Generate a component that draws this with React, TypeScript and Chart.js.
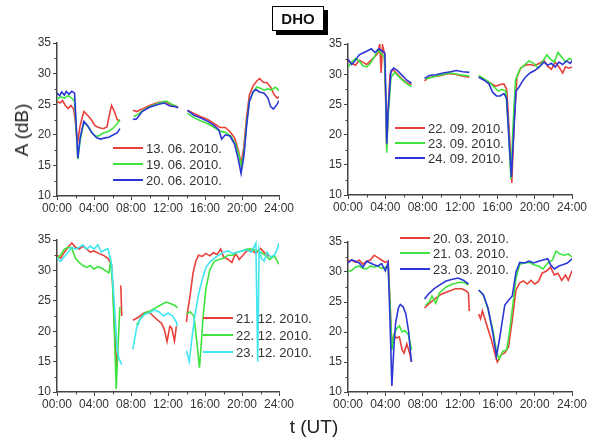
import React, { useEffect, useRef } from 'react';
import { Chart, registerables } from 'chart.js';

Chart.register(...registerables);

type Pt = [number, number | null];

// axis ticks
const hourMajor = [0, 4, 8, 12, 16, 20, 24];
const hourMinor = [2, 6, 10, 14, 18, 22];
const dbMajor = [10, 15, 20, 25, 30, 35];
const dbMinor = [12.5, 17.5, 22.5, 27.5, 32.5];

// ---- June ----
const jun13: Pt[] = [[0,25.5],[0.3,25.2],[0.6,25.6],[0.9,24.8],[1.2,24.3],[1.5,24.8],[1.8,24.2],[2.0,22],[2.2,18.5],[2.5,21.5],[2.9,23.8],[3.3,23.2],[3.7,22.5],[4.1,21.5],[4.5,21.2],[5.0,21.0],[5.4,21.3],[5.7,23.5],[5.9,24.8],[6.2,23.8],[6.5,22.5],[6.8,22.2],[7.5,null],[8.2,24.0],[8.6,23.8],[9.2,24.2],[10,24.8],[11,25.3],[11.7,25.4],[12.3,24.9],[12.8,24.7],[13.1,24.5],[13.6,null],[14.1,24.0],[14.8,23.5],[15.5,23.0],[16.3,22.5],[17,21.8],[17.6,21.2],[18.2,21.2],[18.7,20.5],[19.2,19.5],[19.6,17.5],[19.9,15.3],[20.2,18],[20.5,23],[20.8,26.5],[21.2,28.0],[21.6,28.8],[21.9,29.2],[22.3,28.6],[22.7,28.5],[23.1,27.8],[23.5,26.5],[23.8,26.0],[24,26.2]];
const jun19: Pt[] = [[0,25.8],[0.4,26.2],[0.8,26.0],[1.2,26.4],[1.6,26.0],[1.9,25.5],[2.1,20],[2.25,16.0],[2.5,19],[2.9,22.0],[3.3,21.5],[3.7,20.5],[4.1,19.8],[4.5,19.8],[5.0,20.3],[5.5,20.5],[6.0,21.0],[6.5,21.8],[6.8,22.5],[7.5,null],[8.3,23.0],[8.7,23.3],[9.3,24.0],[10,24.6],[11,25.2],[11.8,25.5],[12.4,25.0],[13.0,24.6],[13.6,null],[14.1,23.5],[14.8,22.8],[15.5,22.3],[16.3,21.8],[17,21.2],[17.6,20.6],[18.2,20.4],[18.8,19.8],[19.3,18.5],[19.7,16.5],[19.95,14.8],[20.2,17],[20.5,22],[20.8,25.5],[21.2,27.0],[21.6,27.8],[22,27.6],[22.4,27.3],[22.8,27.5],[23.2,27.3],[23.6,27.8],[24,27.2]];
const jun20: Pt[] = [[0,26.8],[0.3,26.4],[0.5,27.0],[0.8,26.5],[1.0,27.1],[1.3,26.6],[1.6,27.1],[1.9,26.8],[2.1,21],[2.25,16.2],[2.5,19.5],[2.9,22.2],[3.3,21.5],[3.8,20.3],[4.3,19.5],[4.7,19.3],[5.2,19.5],[5.6,19.6],[6.1,20.0],[6.5,20.3],[6.8,21.0],[7.5,null],[8.2,22.5],[8.6,22.6],[9.2,23.8],[10,24.5],[11,25.0],[11.6,25.2],[12.2,24.7],[12.8,24.6],[13.1,24.4],[13.6,null],[14.1,24.0],[14.8,23.2],[15.5,22.8],[16.3,22.2],[17,21.5],[17.5,20.8],[17.8,19.3],[18.2,20.0],[18.7,19.8],[19.2,18.5],[19.6,16.0],[19.9,13.7],[20.2,16.5],[20.5,21.5],[20.8,25.5],[21.2,27.0],[21.5,27.4],[21.9,27.0],[22.4,26.8],[22.8,26.0],[23.1,24.6],[23.4,24.2],[23.8,25.0],[24,25.6]];

// ---- September ----
const sep22: Pt[] = [[0,32.2],[0.4,31.8],[0.8,31.5],[1.2,32.3],[1.6,32.0],[2.0,31.6],[2.4,32.2],[2.8,32.8],[3.2,33.5],[3.4,35.0],[3.55,30.2],[3.7,34.8],[3.9,33.5],[4.05,25],[4.15,18.0],[4.3,24],[4.5,30.0],[4.8,30.8],[5.3,30.0],[5.8,29.2],[6.3,28.6],[6.8,28.3],[7.5,null],[8.2,28.9],[8.6,29.4],[9.2,29.6],[10,29.8],[10.8,30.1],[11.5,30.0],[12.2,29.7],[13,29.5],[13.6,null],[14.0,29.6],[14.6,29.0],[15.2,28.6],[15.8,28.0],[16.3,28.3],[16.7,28.4],[17.0,27.5],[17.3,20],[17.55,12.0],[17.8,22],[18.1,29.5],[18.5,31.0],[19,31.5],[19.5,31.6],[20,31.4],[20.5,31.8],[21,32.3],[21.4,31.3],[21.8,30.8],[22.2,32],[22.6,31.2],[23,30.2],[23.3,31.2],[23.7,31.0],[24,31.2]];
const sep23: Pt[] = [[0,31.2],[0.4,32.0],[0.8,32.6],[1.2,32.2],[1.6,31.4],[2.0,31.2],[2.4,31.8],[2.8,32.8],[3.2,34.0],[3.5,33.5],[3.9,32.8],[4.05,26],[4.15,17.0],[4.3,23],[4.6,29.5],[5.0,30.3],[5.5,29.5],[6.0,28.8],[6.5,28.2],[6.8,28.0],[7.5,null],[8.3,29.2],[8.8,29.4],[9.5,29.7],[10.3,30.0],[11,30.2],[11.7,30.0],[12.4,29.8],[13.0,29.7],[13.6,null],[14.0,29.8],[14.6,29.2],[15.2,28.6],[15.7,27.8],[16.1,27.2],[16.5,27.5],[16.9,27.2],[17.2,21],[17.45,12.6],[17.7,22],[17.95,29.0],[18.4,30.8],[18.9,31.5],[19.4,32.2],[19.9,31.8],[20.4,31.0],[20.9,32.2],[21.3,33.2],[21.7,32.5],[22.1,32.0],[22.5,33.6],[22.9,32.8],[23.3,32.0],[23.7,32.6],[24,32.4]];
const sep24: Pt[] = [[0,32.5],[0.4,31.6],[0.8,32.3],[1.2,33.2],[1.6,33.5],[2.0,33.8],[2.5,34.2],[2.9,33.6],[3.3,34.2],[3.7,33.8],[3.95,33.5],[4.05,27],[4.15,18.5],[4.3,24],[4.6,30.5],[4.9,31.0],[5.3,30.6],[5.8,29.8],[6.3,29.0],[6.8,28.5],[7.5,null],[8.2,29.3],[8.7,29.8],[9.4,29.9],[10.2,30.2],[11,30.4],[11.6,30.6],[12.3,30.4],[13,30.3],[13.6,null],[14.0,29.5],[14.6,29.0],[15.1,28.4],[15.5,27.0],[15.9,26.4],[16.3,26.4],[16.7,26.8],[17.0,26.0],[17.25,19],[17.5,13.0],[17.75,20],[18.0,27.2],[18.3,27.8],[18.6,28.6],[19.0,29.5],[19.5,30.2],[20,30.6],[20.5,31.2],[21,32.0],[21.4,31.5],[21.8,31.8],[22.2,31.2],[22.6,32.0],[23,31.6],[23.4,32.2],[23.8,31.8],[24,32.2]];

// ---- December ----
const dec21: Pt[] = [[0,32.5],[0.4,32.0],[0.8,33.0],[1.2,33.8],[1.6,34.5],[2.0,33.8],[2.4,33.5],[2.8,34.0],[3.2,33.5],[3.6,33.0],[4.0,33.2],[4.5,32.8],[5.0,32.5],[5.5,32.0],[5.9,31.0],[6.1,25],[6.3,18],[6.5,14.0],[6.6,null],[6.9,27.5],[7.0,22.5],[7.2,null],[8.2,21.8],[8.8,22.3],[9.4,23.0],[9.9,23.2],[10.4,22.5],[10.9,21.8],[11.3,21.3],[11.6,20.3],[11.9,18.3],[12.2,20.8],[12.4,20.5],[12.7,18.4],[12.9,20.8],[13.2,null],[14.0,21.5],[14.1,23.0],[14.4,26.0],[14.7,29.5],[15.0,31.5],[15.3,32.5],[15.7,32.3],[16.1,32.8],[16.5,32.4],[16.9,32.9],[17.3,32.6],[17.7,33.5],[18.0,32.2],[18.5,31.8],[18.9,31.3],[19.3,32.8],[19.7,31.8],[20.1,32.5],[20.5,33.2],[21,33.4],[21.5,32.8],[22,33.6],[22.5,32.8],[23,32.3]];
const dec22: Pt[] = [[0,32.0],[0.4,32.5],[0.8,33.5],[1.2,33.8],[1.6,33.6],[2.0,32.0],[2.4,31.3],[2.8,30.8],[3.2,30.5],[3.6,30.8],[4.0,30.2],[4.4,30.6],[4.8,30.4],[5.2,30.0],[5.6,29.6],[5.8,31.5],[6.0,28],[6.2,20],[6.4,10.5],[6.6,17.5],[6.8,24.0],[7.2,null],[8.6,21.0],[9.0,22.0],[9.5,23.0],[10.0,23.3],[10.6,23.8],[11.2,24.3],[11.8,24.8],[12.3,24.5],[12.8,24.2],[13.0,23.8],[13.4,null],[14.0,22.8],[14.4,23.2],[14.8,22.5],[15.1,18.5],[15.4,14.0],[15.6,18],[15.8,22.5],[16.1,27],[16.5,30.0],[17.0,31.5],[17.5,31.8],[18,32.0],[18.5,32.5],[19,32.5],[19.5,33.0],[20,33.2],[20.5,33.5],[21,33.5],[21.5,33.3],[22,33.0],[22.5,32.5],[23,31.8],[23.5,32.4],[24,31.0]];
const dec23: Pt[] = [[0,32.0],[0.4,31.5],[0.8,32.3],[1.2,33.0],[1.6,33.8],[2.0,33.5],[2.4,33.8],[2.8,34.2],[3.2,33.5],[3.6,34.0],[4.0,33.5],[4.4,34.2],[4.8,33.0],[5.2,33.4],[5.5,33.6],[5.9,31.0],[6.2,24.5],[6.5,17.0],[6.7,15.5],[7.0,14.5],[7.2,null],[8.2,17.0],[8.6,20.5],[9.0,22.0],[9.5,22.8],[10.0,23.0],[10.5,23.5],[11.0,23.2],[11.5,22.5],[12.0,23.0],[12.5,22.5],[12.9,21.5],[13.0,20.8],[13.4,null],[14.0,16.8],[14.3,15.0],[14.6,19.0],[14.9,22.5],[15.3,26.0],[15.7,28.5],[16.1,30.5],[16.6,31.5],[17.0,32.0],[17.5,32.5],[18,33.0],[18.5,33.2],[19,32.8],[19.5,33.0],[20,33.2],[20.5,33.4],[21,33.0],[21.5,34.5],[21.7,15.0],[21.85,33.5],[22.1,32.0],[22.4,31.5],[22.7,33.0],[23.1,32.2],[23.5,32.5],[23.8,33.5],[24,34.5]];

// ---- March ----
const mar20: Pt[] = [[0,31.8],[0.4,32.0],[0.8,31.6],[1.2,32.0],[1.6,31.3],[2.0,31.8],[2.4,32.0],[2.8,32.8],[3.2,32.4],[3.6,32.0],[4.0,31.6],[4.3,31.8],[4.5,25],[4.7,17.5],[4.9,19.5],[5.2,19.0],[5.5,19.2],[5.8,17.0],[6.0,16.5],[6.3,18.0],[6.6,16.5],[6.8,15.0],[7.4,null],[8.2,24.0],[8.6,24.6],[9.2,25.4],[10,26.3],[10.8,26.8],[11.5,27.2],[12.2,27.2],[12.7,26.8],[12.9,26.5],[13.0,23.5],[13.5,null],[14.0,23.0],[14.2,22.2],[14.4,23.5],[14.7,22.0],[15.0,20.5],[15.4,18.5],[15.8,16.0],[16.0,15.0],[16.4,16.2],[16.8,16.5],[17.2,17.5],[17.6,22.0],[18.0,27.0],[18.4,28.2],[18.8,28.5],[19.2,28.0],[19.6,28.6],[20.0,28.0],[20.4,28.4],[20.8,29.8],[21.3,30.2],[21.7,30.8],[22.1,29.5],[22.5,29.8],[22.9,28.6],[23.3,29.5],[23.6,28.6],[24,30.2]];
const mar21: Pt[] = [[0,30.0],[0.4,30.3],[0.8,30.8],[1.2,31.0],[1.6,30.6],[2.0,30.5],[2.4,31.0],[2.8,30.8],[3.2,31.0],[3.6,30.6],[4.0,30.8],[4.3,31.0],[4.5,25],[4.7,17.0],[4.9,19.5],[5.2,20.5],[5.5,21.0],[5.8,20.0],[6.1,20.2],[6.5,19.5],[6.8,17.0],[7.4,null],[8.3,24.5],[8.7,25.0],[9.0,26.0],[9.4,24.8],[9.8,26.5],[10.5,27.5],[11.2,28.0],[12.0,28.3],[12.5,28.2],[12.9,27.8],[13.5,null],[14.0,27.0],[14.5,26.2],[15.0,23.8],[15.5,20.5],[15.9,16.8],[16.2,15.5],[16.6,16.8],[17.0,17.0],[17.3,20.0],[17.7,25.0],[18.0,29.0],[18.4,31.3],[18.9,31.5],[19.4,31.6],[19.9,31.2],[20.4,31.0],[20.9,30.5],[21.4,31.5],[21.9,32.0],[22.3,33.5],[22.7,33.0],[23.2,32.8],[23.6,33.0],[24,32.5]];
const mar23: Pt[] = [[0,31.5],[0.4,32.0],[0.8,31.8],[1.2,31.5],[1.6,30.8],[2.0,31.8],[2.4,31.5],[2.8,31.2],[3.2,31.0],[3.6,31.4],[4.0,30.2],[4.3,31.5],[4.5,22],[4.7,11.0],[4.9,17],[5.1,21.5],[5.4,24.0],[5.6,24.6],[5.9,24.2],[6.2,23.0],[6.5,20.0],[6.7,16.5],[6.8,15.0],[7.4,null],[8.2,25.5],[8.6,26.3],[9.2,27.2],[9.8,27.8],[10.5,28.5],[11.2,28.8],[11.8,29.0],[12.4,28.6],[12.9,28.0],[13.5,null],[14.0,27.0],[14.5,26.2],[15.0,24.0],[15.5,20.0],[15.9,16.0],[16.2,18.5],[16.5,21.5],[16.8,24.5],[17.2,25.3],[17.6,26.0],[18.0,30.0],[18.4,31.6],[18.9,31.5],[19.4,31.8],[19.9,31.5],[20.4,31.8],[20.9,32.0],[21.4,32.2],[21.7,31.2],[22.1,30.5],[22.6,31.0],[23.0,31.2],[23.5,31.5],[24,32.2]];

const RED = '#e8403a';
const GREEN = '#3ee43e';
const BLUE = '#2a37d6';
const CYAN = '#40e6f0';

const FONT = '"Liberation Sans", Arial, sans-serif';

interface Series { label: string; data: Pt[]; color: string; }
interface Panel {
  plot: { l: number; r: number; t: number; b: number };
  series: Series[];
  legend: { x: number; ys: number[] };
}

const panels: Panel[] = [
  {
    plot: { l: 57, r: 279, t: 43, b: 196 },
    series: [
      { label: '13. 06. 2010.', data: jun13, color: RED },
      { label: '19. 06. 2010.', data: jun19, color: GREEN },
      { label: '20. 06. 2010.', data: jun20, color: BLUE },
    ],
    legend: { x: 113, ys: [148, 164, 180] },
  },
  {
    plot: { l: 348, r: 572, t: 44, b: 195 },
    series: [
      { label: '22. 09. 2010.', data: sep22, color: RED },
      { label: '23. 09. 2010.', data: sep23, color: GREEN },
      { label: '24. 09. 2010.', data: sep24, color: BLUE },
    ],
    legend: { x: 395, ys: [128, 143, 158] },
  },
  {
    plot: { l: 57, r: 279, t: 240, b: 392 },
    series: [
      { label: '21. 12. 2010.', data: dec21, color: RED },
      { label: '22. 12. 2010.', data: dec22, color: GREEN },
      { label: '23. 12. 2010.', data: dec23, color: CYAN },
    ],
    legend: { x: 203, ys: [318, 335, 352] },
  },
  {
    plot: { l: 348, r: 572, t: 242, b: 392 },
    series: [
      { label: '20. 03. 2010.', data: mar20, color: RED },
      { label: '21. 03. 2010.', data: mar21, color: GREEN },
      { label: '23. 03. 2010.', data: mar23, color: BLUE },
    ],
    legend: { x: 400, ys: [238, 253, 269] },
  },
];

const PAD_L = 50, PAD_T = 10, PAD_R = 20, PAD_B = 22;

const minorTicks = {
  id: 'minorTicks',
  afterDraw(chart: any) {
    const { ctx, scales, chartArea } = chart;
    const x = scales.x, y = scales.y;
    ctx.save();
    ctx.strokeStyle = '#444';
    ctx.lineWidth = 1;
    ctx.beginPath();
    hourMinor.forEach((h) => {
      const px = Math.round(x.getPixelForValue(h)) + 0.5;
      ctx.moveTo(px, chartArea.bottom);
      ctx.lineTo(px, chartArea.bottom + 2.5);
    });
    dbMinor.forEach((v) => {
      const py = Math.round(y.getPixelForValue(v)) + 0.5;
      ctx.moveTo(chartArea.left - 2.5, py);
      ctx.lineTo(chartArea.left, py);
    });
    ctx.stroke();
    ctx.restore();
  },
};

function PanelChart({ panel }: { panel: Panel }) {
  const ref = useRef<HTMLCanvasElement>(null);
  const { l, r, t, b } = panel.plot;
  const w = r - l + PAD_L + PAD_R;
  const h = b - t + PAD_T + PAD_B;

  useEffect(() => {
    if (!ref.current) return;
    const chart = new Chart(ref.current, {
      type: 'line',
      data: {
        datasets: panel.series.map((s, i) => ({
          label: s.label,
          data: s.data.map(([x, y]) => ({ x, y })),
          borderColor: s.color,
          backgroundColor: s.color,
          borderWidth: 1.6,
          pointRadius: 0,
          tension: 0,
          spanGaps: false,
          fill: false,
          order: panel.series.length - i,
        })),
      },
      options: {
        animation: false,
        responsive: false,
        maintainAspectRatio: false,
        devicePixelRatio: 1,
        layout: { padding: { left: 0, top: PAD_T, right: PAD_R, bottom: 0 } },
        plugins: { legend: { display: false }, tooltip: { enabled: false }, title: { display: false } },
        scales: {
          x: {
            type: 'linear',
            min: 0,
            max: 24,
            afterFit: (s: any) => { s.height = PAD_B; },
            afterBuildTicks: (s: any) => { s.ticks = hourMajor.map((v) => ({ value: v })); },
            ticks: {
              autoSkip: false,
              maxRotation: 0,
              padding: 1,
              color: '#333',
              font: { family: FONT, size: 12 },
              callback: (v: any) => `${String(v).padStart(2, '0')}:00`,
            },
            grid: { display: true, drawOnChartArea: false, drawTicks: true, tickLength: 4, color: '#444', lineWidth: 1 },
            border: { display: true, color: '#444', width: 1.5 },
          },
          y: {
            type: 'linear',
            min: 10,
            max: 35,
            afterFit: (s: any) => { s.width = PAD_L; },
            afterBuildTicks: (s: any) => { s.ticks = dbMajor.map((v) => ({ value: v })); },
            ticks: {
              autoSkip: false,
              padding: 2,
              color: '#333',
              font: { family: FONT, size: 12 },
            },
            grid: { display: true, drawOnChartArea: false, drawTicks: true, tickLength: 4, color: '#444', lineWidth: 1 },
            border: { display: true, color: '#444', width: 1.5 },
          },
        },
      },
      plugins: [minorTicks],
    } as any);
    return () => chart.destroy();
  }, [panel]);

  return (
    <canvas
      ref={ref}
      width={w}
      height={h}
      style={{ position: 'absolute', left: l - PAD_L, top: t - PAD_T, width: w, height: h }}
    />
  );
}

function Legend({ panel }: { panel: Panel }) {
  return (
    <>
      {panel.series.map((s, i) => (
        <div
          key={s.label}
          style={{
            position: 'absolute',
            left: panel.legend.x,
            top: panel.legend.ys[i] - 8,
            height: 16,
            display: 'flex',
            alignItems: 'center',
            whiteSpace: 'nowrap',
            fontFamily: FONT,
            fontSize: 13,
            color: '#333',
          }}
        >
          <span style={{ display: 'inline-block', width: 30, height: 2, background: s.color, marginRight: 3 }} />
          <span>{s.label}</span>
        </div>
      ))}
    </>
  );
}

export default function App() {
  return (
    <div
      style={{
        position: 'fixed',
        left: 0,
        top: 0,
        width: 595,
        height: 439,
        background: '#fff',
        overflow: 'hidden',
        fontFamily: FONT,
      }}
    >
      {panels.map((p, i) => (
        <PanelChart key={i} panel={p} />
      ))}
      {panels.map((p, i) => (
        <Legend key={'l' + i} panel={p} />
      ))}
      <div
        style={{
          position: 'absolute',
          left: 272,
          top: 6,
          width: 50,
          height: 23,
          border: '1.5px solid #000',
          boxShadow: '4px 4px 0 #000',
          background: '#fff',
          display: 'flex',
          alignItems: 'center',
          justifyContent: 'center',
          fontWeight: 'bold',
          fontSize: 15,
          color: '#111',
        }}
      >
        DHO
      </div>
      <div
        style={{
          position: 'absolute',
          left: 22,
          top: 130,
          transform: 'translate(-50%, -50%) rotate(-90deg)',
          fontSize: 19,
          color: '#222',
          whiteSpace: 'nowrap',
        }}
      >
        A (dB)
      </div>
      <div
        style={{
          position: 'absolute',
          left: 314,
          top: 427,
          transform: 'translate(-50%, -50%)',
          fontSize: 19,
          color: '#222',
          whiteSpace: 'nowrap',
        }}
      >
        t (UT)
      </div>
    </div>
  );
}
